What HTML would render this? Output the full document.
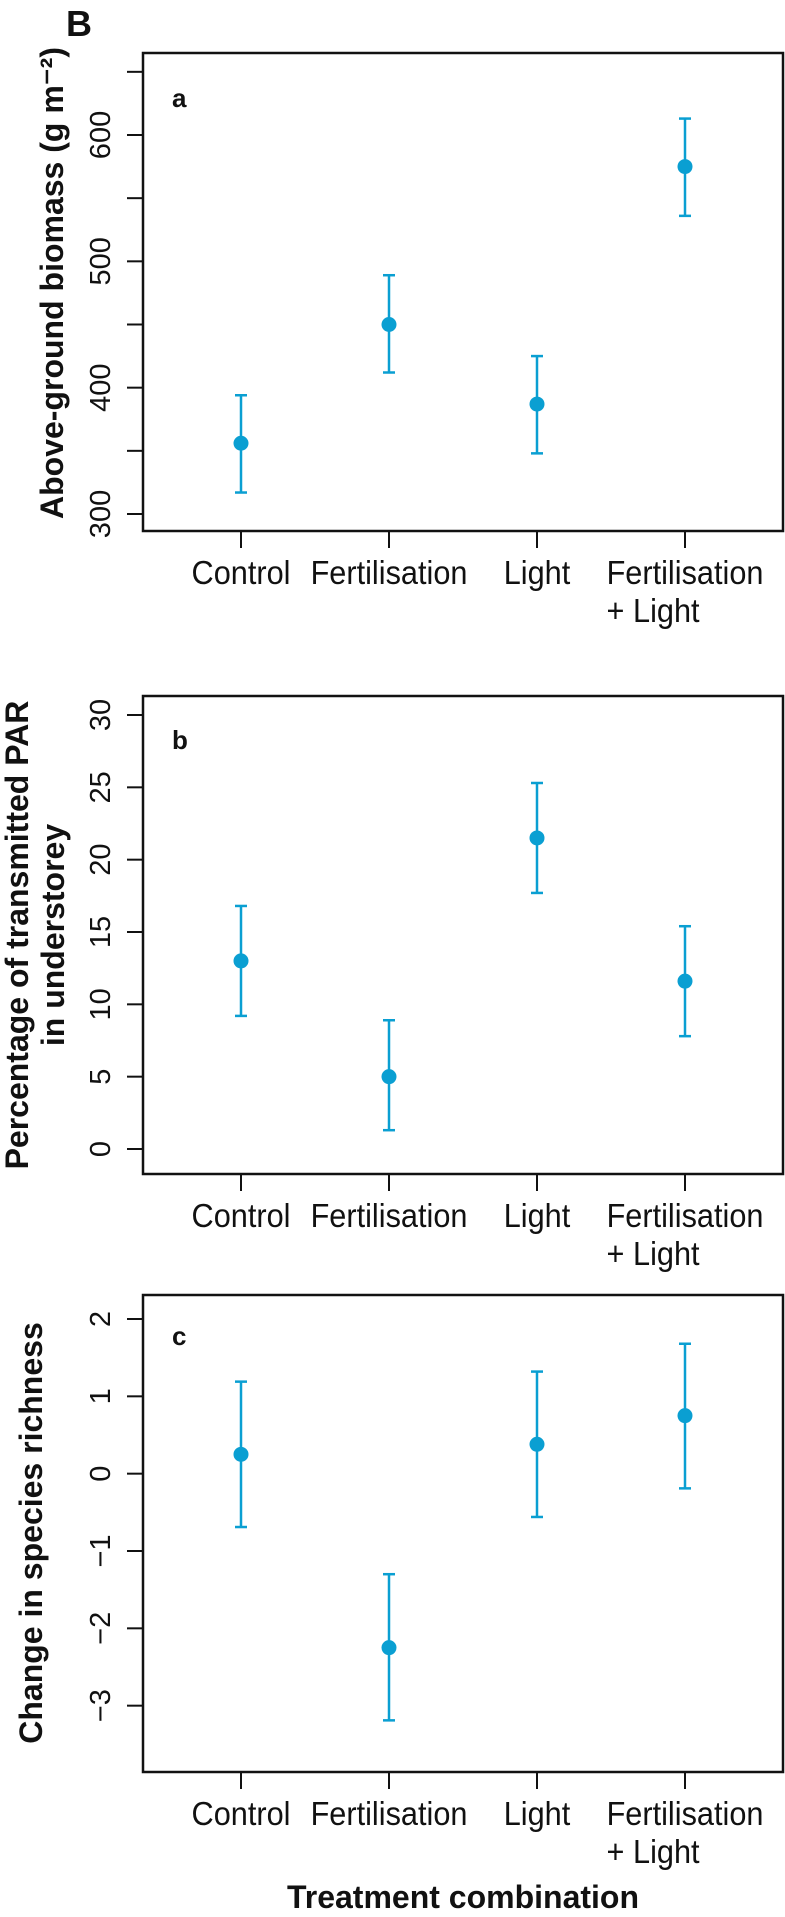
<!DOCTYPE html>
<html><head><meta charset="utf-8">
<style>
html,body{margin:0;padding:0;background:#fff;}
svg{display:block;}
text{font-family:"Liberation Sans",Arial,sans-serif;fill:#111;}
</style></head>
<body>
<svg id="fig" width="785" height="1917" viewBox="0 0 785 1917" xmlns="http://www.w3.org/2000/svg">
<text x="66" y="36" font-size="36" font-weight="bold">B</text>
</svg>
<script>
const categories = ["Control","Fertilisation","Light","Fertilisation\n+ Light"];
const biomassMean = [356, 450, 387, 575];
const biomassUpper = [394, 489, 425, 613];
const biomassLower = [317, 412, 348, 536];
const biomassTicks = [300, 350, 400, 450, 500, 550, 600, 650];
const biomassLabels = ["300","","400","","500","","600",""];
const parMean = [13.0, 5.0, 21.5, 11.6];
const parUpper = [16.8, 8.9, 25.3, 15.4];
const parLower = [9.2, 1.3, 17.7, 7.8];
const parTicks = [0, 5, 10, 15, 20, 25, 30];
const parLabels = ["0","5","10","15","20","25","30"];
const richMean = [0.25, -2.25, 0.38, 0.75];
const richUpper = [1.19, -1.3, 1.32, 1.68];
const richLower = [-0.69, -3.19, -0.56, -0.19];
const richTicks = [-3, -2, -1, 0, 1, 2];
const richLabels = ["\u22123","\u22122","\u22121","0","1","2"];

const NS = "http://www.w3.org/2000/svg";
const svg = document.getElementById("fig");
const COL = "#0a9fd2";
function mk(tag, attrs, parent){
  const e = document.createElementNS(NS, tag);
  for (const k in attrs) e.setAttribute(k, attrs[k]);
  (parent||svg).appendChild(e);
  return e;
}
const L = 143, R = 783;
const xPos = [241, 390, 538, 685];
function xScale(i){ return xPos[0] + i * (xPos[3]-xPos[0]) / 3; }
const SX = 0.93;

function panel(cfg){
  const g = mk("g", {});
  
  
  const y = v => cfg.y0 + (v - cfg.v0) * (cfg.y1 - cfg.y0) / (cfg.v1 - cfg.v0);
  const box = mk("rect", {x:L, y:cfg.top, width:R-L, height:cfg.bottom-cfg.top, fill:"none", stroke:"#111", "stroke-width":2.5}, g);
  
  
  cfg.ticks.forEach((t, i) => {
    const yy = y(t);
    const tk = mk("line", {x1:127, x2:L, y1:yy, y2:yy, stroke:"#111", "stroke-width":2}, g);
    
    
    if (cfg.labels[i]) {
      const tx = mk("text", {x:0, y:0, "font-size":29, "text-anchor":"middle", transform:`translate(110,${yy}) rotate(-90)`}, g);
      tx.textContent = cfg.labels[i];
      
      
    }
  });
  categories.forEach((c, i) => {
    const xx = xScale(i);
    const tk = mk("line", {x1:xx, x2:xx, y1:cfg.bottom, y2:cfg.bottom+17, stroke:"#111", "stroke-width":2}, g);
    
    
    const lines = c.split("\n");
    let startX = xx;
    lines.forEach((ln, j) => {
      const t = mk("text", {x:0, y:0, "font-size":33, "text-anchor": j===0 ? "middle":"start"}, g);
      t.textContent = ln;
      
      
      if (j===0) {
        t.setAttribute("transform", `translate(${xx},${cfg.bottom+53}) scale(${SX},1)`);
        startX = xx - t.getComputedTextLength()*SX/2;
      } else {
        t.setAttribute("transform", `translate(${startX},${cfg.bottom+91}) scale(${SX},1)`);
      }
    });
    const eb = mk("g", {}, g);
    
    
    const yu = y(cfg.upper[i]), yl = y(cfg.lower[i]), ym = y(cfg.mean[i]);
    mk("line", {x1:xx, x2:xx, y1:yu, y2:yl, stroke:COL, "stroke-width":2.5}, eb);
    mk("line", {x1:xx-6, x2:xx+6, y1:yu, y2:yu, stroke:COL, "stroke-width":2.5}, eb);
    mk("line", {x1:xx-6, x2:xx+6, y1:yl, y2:yl, stroke:COL, "stroke-width":2.5}, eb);
    const pt = mk("circle", {cx:xx, cy:ym, r:7.5, fill:COL}, g);
    
    
  });
  const pl = mk("text", {x:172, y:cfg.letterY, "font-size":26, "font-weight":"bold"}, g);
  pl.textContent = cfg.letter;
  
  
  cfg.titles.forEach(tt => {
    const t = mk("text", {x:0, y:0, "font-size":32, "font-weight":"bold", "text-anchor":"middle", transform:`translate(${tt.x},${tt.cy}) rotate(-90)`}, g);
    t.textContent = tt.text;
    
    
  });
}

panel({name:"panel-a-biomass", top:53, bottom:531, v0:600, y0:135, v1:300, y1:514,
  ticks:biomassTicks, labels:biomassLabels, mean:biomassMean, upper:biomassUpper, lower:biomassLower,
  letter:"a", letterY:107, titles:[{text:"Above-ground biomass (g m\u207B\u00B2)", x:63, cy:283}]});
panel({name:"panel-b-par", top:696, bottom:1174, v0:30, y0:715, v1:0, y1:1149,
  ticks:parTicks, labels:parLabels, mean:parMean, upper:parUpper, lower:parLower,
  letter:"b", letterY:749, titles:[{text:"Percentage of transmitted PAR", x:28, cy:935},{text:"in understorey", x:64, cy:935}]});
panel({name:"panel-c-richness", top:1295, bottom:1772, v0:2, y0:1319, v1:-1, y1:1551,
  ticks:richTicks, labels:richLabels, mean:richMean, upper:richUpper, lower:richLower,
  letter:"c", letterY:1345, titles:[{text:"Change in species richness", x:42, cy:1533}]});

const xt = mk("text", {x:463, y:1908, "font-size":32, "font-weight":"bold", "text-anchor":"middle"});
xt.textContent = "Treatment combination";


</script>
</body></html>
